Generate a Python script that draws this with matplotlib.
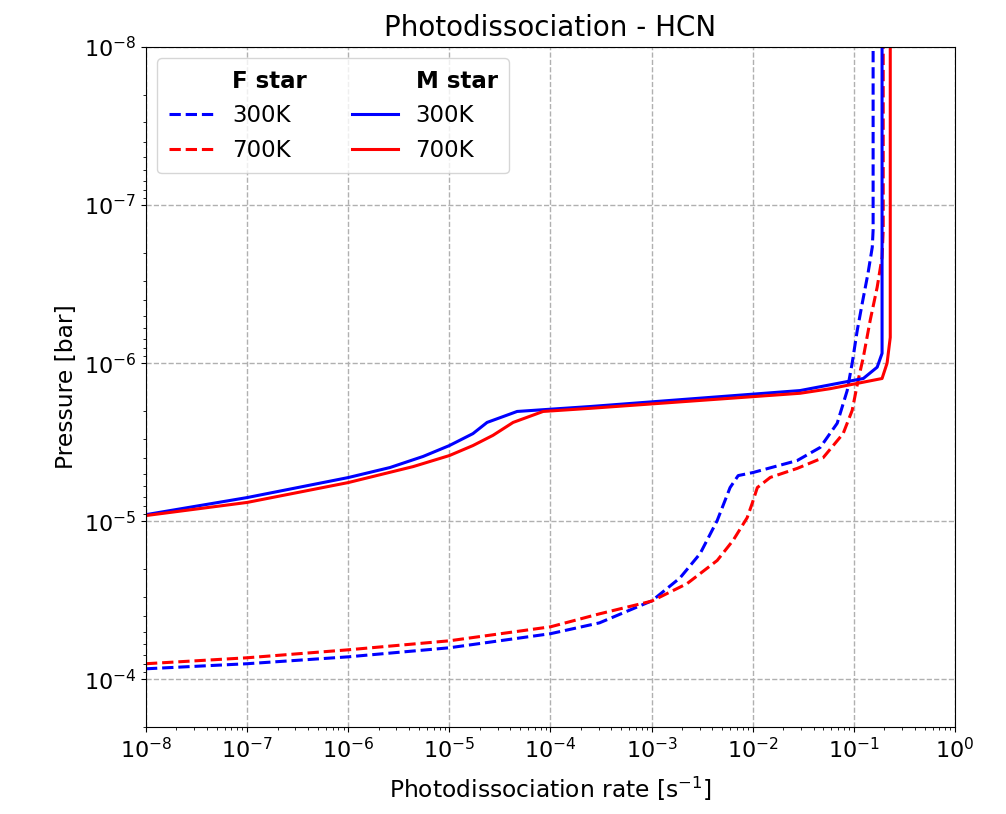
import matplotlib
matplotlib.use("Agg")
import matplotlib.pyplot as plt
from matplotlib.lines import Line2D

# ---- Data ----
# F star, 300 K (blue dashed)
f300_rate = [1e-8, 1e-7, 1e-6, 1e-5, 1e-4, 3.05e-4, 1.01e-3, 1.91e-3, 3.02e-3, 4.45e-3,
             5.97e-3, 7.18e-3, 1.0e-2, 2.75e-2, 4.65e-2, 6.84e-2, 8.59e-2, 9.62e-2,
             0.108, 0.121, 0.138, 0.152, 0.155, 0.155]
f300_pres = [8.57e-5, 7.96e-5, 7.2e-5, 6.31e-5, 5.14e-5, 4.39e-5, 3.18e-5, 2.28e-5, 1.60e-5, 9.9e-6,
             6.12e-6, 5.14e-6, 4.92e-6, 4.13e-6, 3.41e-6, 2.40e-6, 1.49e-6, 1.0e-6,
             6.2e-7, 4.18e-7, 2.7e-7, 1.85e-7, 1.44e-7, 1e-8]

# F star, 700 K (red dashed)
f700_rate = [1e-8, 1e-7, 1e-6, 1e-5, 1e-4, 3.05e-4, 1.0e-3, 2.24e-3, 4.45e-3, 6.4e-3,
             8.8e-3, 9.86e-3, 1.11e-2, 1.49e-2, 2.75e-2, 4.97e-2, 7.83e-2, 9.62e-2,
             0.110, 0.124, 0.145, 0.170, 0.19, 0.195, 0.195]
f700_pres = [7.96e-5, 7.3e-5, 6.5e-5, 5.7e-5, 4.65e-5, 3.85e-5, 3.2e-5, 2.48e-5, 1.77e-5, 1.32e-5,
             9.5e-6, 7.73e-6, 6.12e-6, 5.28e-6, 4.63e-6, 3.96e-6, 2.79e-6, 1.99e-6,
             1.29e-6, 9.18e-7, 5.36e-7, 3.31e-7, 2.14e-7, 1.44e-7, 1e-8]

# M star, 300 K (blue solid)
m300_rate = [1e-8, 1e-7, 1e-6, 2.59e-6, 5.5e-6, 1e-5, 1.71e-5, 2.36e-5, 4.68e-5, 2.47e-4,
             2.94e-2, 0.124, 0.170, 0.19, 0.19]
m300_pres = [9.08e-6, 7.08e-6, 5.29e-6, 4.57e-6, 3.89e-6, 3.32e-6, 2.79e-6, 2.37e-6, 2.02e-6, 1.88e-6,
             1.49e-6, 1.25e-6, 1.06e-6, 8.67e-7, 1e-8]

# M star, 700 K (red solid)
m700_rate = [1e-8, 1e-7, 1e-6, 4.38e-6, 1e-5, 1.71e-5, 2.7e-5, 4.27e-5, 8.45e-5, 2.47e-4,
             2.94e-2, 5.83e-2, 0.19, 0.213, 0.229, 0.229]
m700_pres = [9.2e-6, 7.6e-6, 5.69e-6, 4.51e-6, 3.84e-6, 3.32e-6, 2.86e-6, 2.37e-6, 2.02e-6, 1.93e-6,
             1.55e-6, 1.45e-6, 1.25e-6, 1.0e-6, 6.87e-7, 1e-8]

title = "Photodissociation - HCN"
xlabel = r"Photodissociation rate [s$^{-1}$]"
ylabel = "Pressure [bar]"

# ---- Plot ----
fs = 16
fig = plt.figure(figsize=(10.06, 8.14), dpi=100)
ax = fig.add_axes([0.1451, 0.1069, 0.8042, 0.8354])

lw = 2.2
l_f300, = ax.plot(f300_rate, f300_pres, color="blue", ls="--", lw=lw)
l_f700, = ax.plot(f700_rate, f700_pres, color="red", ls="--", lw=lw)
l_m300, = ax.plot(m300_rate, m300_pres, color="blue", ls="-", lw=lw)
l_m700, = ax.plot(m700_rate, m700_pres, color="red", ls="-", lw=lw)

ax.set_xscale("log")
ax.set_yscale("log")
ax.set_xlim(1e-8, 1e0)
ax.set_ylim(2e-4, 1e-8)
ax.grid(True, which="major", ls="--", color="#b0b0b0", lw=1.0)

ax.set_title(title, fontsize=20, pad=8)
ax.set_xlabel(xlabel, fontsize=16.8, labelpad=9)
ax.set_ylabel(ylabel, fontsize=16.8)
ax.tick_params(axis="both", which="major", labelsize=fs)

blank = Line2D([], [], linestyle="none")
handles = [blank, l_f300, l_f700, blank, l_m300, l_m700]
labels = ["F star", "300K", "700K", "M star", "300K", "700K"]
leg = ax.legend(handles, labels, ncol=2, loc="upper left", fontsize=16.5,
                labelspacing=0.5, borderpad=0.5, handlelength=2.0,
                handletextpad=0.75, columnspacing=2.0)
texts = leg.get_texts()
texts[0].set_fontweight("bold")
texts[3].set_fontweight("bold")

fig.savefig("out.png", dpi=100)
